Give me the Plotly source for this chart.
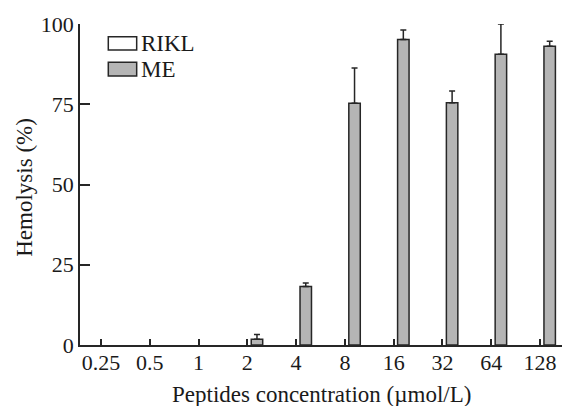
import plotly.graph_objects as go

categories = ["0.25", "0.5", "1", "2", "4", "8", "16", "32", "64", "128"]
rikl_values = [0, 0, 0, 0, 0, 0, 0, 0, 0, 0]
me_values = [0, 0, 0, 1.8, 18.2, 75.3, 95.2, 75.5, 90.6, 93.1]
me_errors = [0, 0, 0, 1.5, 1.1, 11.0, 2.9, 3.6, 9.4, 1.5]
y_ticks = [0, 25, 50, 75, 100]

FONT = "Liberation Serif"
DARK = "#262626"
GRAY = "#b5b5b5"
TXT = "#1a1a1a"

idx = list(range(len(categories)))


def visible(vals, src=None):
    # zero-height bars are not drawn (they coincide with the axis line)
    src = vals if src is None else src
    return [s if v > 0 else None for v, s in zip(vals, src)]


fig = go.Figure()
fig.add_trace(go.Bar(
    x=idx, y=visible(rikl_values), name="RIKL",
    width=0.24, offset=-0.32,
    marker=dict(color="white", line=dict(color=DARK, width=1.5)),
    showlegend=False,
))
fig.add_trace(go.Bar(
    x=idx, y=visible(me_values), name="ME",
    width=0.235, offset=0.08,
    marker=dict(color=GRAY, line=dict(color=DARK, width=1.5)),
    error_y=dict(type="data", symmetric=False, array=visible(me_values, me_errors),
                 arrayminus=visible(me_values, [0] * len(me_errors)),
                 color=DARK, thickness=1.5, width=3),
    showlegend=False,
))

# manual legend (boxes + labels)
legend_items = [("RIKL", "white"), ("ME", GRAY)]
box_rows = [(0.9604, 0.9190), (0.8807, 0.8380)]
for (label, col), (y1, y0) in zip(legend_items, box_rows):
    fig.add_shape(type="rect", xref="paper", yref="paper",
                  x0=0.0587, x1=0.1176, y0=y0, y1=y1,
                  fillcolor=col, line=dict(color=DARK, width=1.5))
    fig.add_annotation(text=label, xref="paper", yref="paper",
                       x=0.1225, y=(y0 + y1) / 2, xanchor="left", yanchor="middle",
                       showarrow=False, font=dict(family=FONT, size=23, color=TXT))

fig.add_annotation(text="Hemolysis (%)", xref="paper", yref="paper",
                   x=-0.114, y=0.49, textangle=-90, xanchor="center", yanchor="middle",
                   showarrow=False, font=dict(family=FONT, size=23, color=TXT))
fig.add_annotation(text="Peptides concentration (µmol/L)", xref="paper", yref="paper",
                   x=0.5, y=-0.153, xanchor="center", yanchor="middle",
                   showarrow=False, font=dict(family=FONT, size=23, color=TXT))

fig.update_layout(
    width=562, height=406,
    margin=dict(l=80, r=0, t=24, b=61),
    paper_bgcolor="white", plot_bgcolor="white",
    barmode="overlay",
    font=dict(family=FONT, size=22, color=TXT),
    xaxis=dict(range=[-0.43, 9.45], tickvals=idx, ticktext=categories,
               ticks="inside", ticklen=6, tickwidth=1.5, tickcolor=DARK,
               ticklabelstandoff=-3,
               showline=True, linecolor=DARK, linewidth=1.8,
               showgrid=False, zeroline=False, fixedrange=True),
    yaxis=dict(range=[0, 100], tickvals=y_ticks,
               ticks="inside", ticklen=10, tickwidth=1.5, tickcolor=DARK,
               showline=True, linecolor=DARK, linewidth=1.8,
               showgrid=False, zeroline=False, fixedrange=True),
)

fig.write_html("out.html")
